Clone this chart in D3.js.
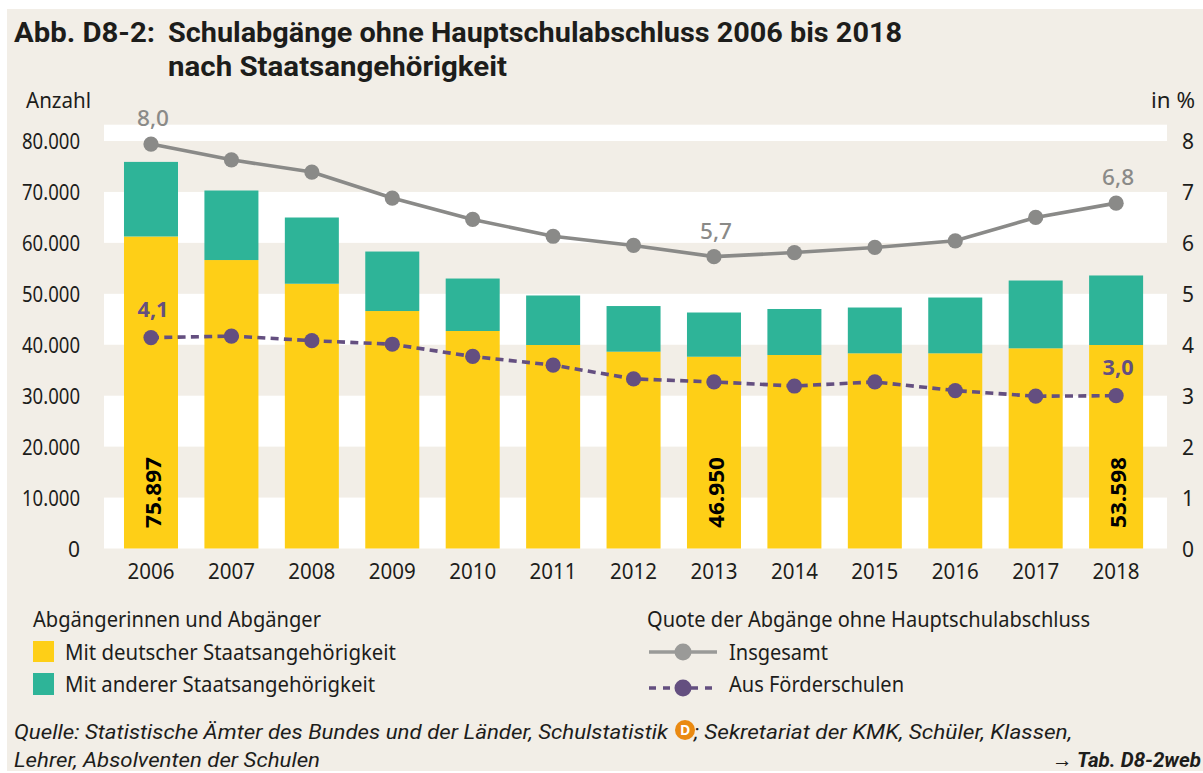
<!DOCTYPE html>
<html lang="de">
<head>
<meta charset="utf-8">
<title>Abb. D8-2</title>
<script src="https://cdn.jsdelivr.net/npm/d3@7/dist/d3.min.js"></script>
<style>
html,body{margin:0;padding:0;background:#fff;overflow:hidden}
svg{display:block}
text{font-family:"Noto Sans","Open Sans",sans-serif;fill:#1d1d1b}
</style>
</head>
<body>
<svg id="chart" width="1203" height="773"></svg>
<script>
const years = [2006,2007,2008,2009,2010,2011,2012,2013,2014,2015,2016,2017,2018];
const german = [61250,56630,51980,46620,42700,39950,38640,37650,37990,38320,38320,39300,39950];
const other  = [14647,13650,13000,11680,10300,9720,8960,8680,9030,8990,10950,13310,13648];
const rateTotal  = [7.94,7.63,7.39,6.88,6.46,6.13,5.95,5.73,5.81,5.91,6.04,6.50,6.78];
const rateSchool = [4.14,4.17,4.08,4.01,3.77,3.60,3.33,3.27,3.19,3.27,3.10,2.99,3.00];
const totalLabels = [{year:2006,text:"75.897"},{year:2013,text:"46.950"},{year:2018,text:"53.598"}];
const rateTotalLabels = [{year:2006,text:"8,0"},{year:2013,text:"5,7"},{year:2018,text:"6,8"}];
const rateSchoolLabels = [{year:2006,text:"4,1"},{year:2018,text:"3,0"}];
const countTicks = [0,10000,20000,30000,40000,50000,60000,70000,80000];
const rateTicks = [0,1,2,3,4,5,6,7,8];
const stripes = [[0,10000],[20000,30000],[40000,50000],[60000,70000],[80000,83200]];

const colors = {bg:"#f2eee7",german:"#fecf17",other:"#2eb498",total:"#8a8a88",school:"#644f80",orange:"#ea8a12"};
const svg = d3.select("#chart");
const x = d3.scaleBand().domain(years).range([110.8,1156.3]).paddingInner(0.3285).paddingOuter(0.164);
const y = d3.scaleLinear().domain([0,80000]).range([548.5,141]);
const r = d3.scaleLinear().domain([0,8]).range([548.5,141]);
const cx = d => x(d)+x.bandwidth()/2;
const de = d3.formatLocale({decimal:",",thousands:".",grouping:[3],currency:["","€"]});
const body = 22;

function label(parent,str,px,py,width,o={}){
  const t = parent.append("text").attr("x",px).attr("y",py).text(str)
    .style("font-size",(o.size||body)+"px").style("font-weight",o.weight||400)
    .style("font-style",o.style||"normal").style("fill",o.fill||"#1d1d1b")
    .attr("text-anchor",o.anchor||"start");
  if(o.family) t.style("font-family",o.family);
  if(width) t.attr("textLength",width).attr("lengthAdjust","spacingAndGlyphs");
  return t;
}

svg.append("rect").attr("x",7).attr("y",9).attr("width",1196).attr("height",762).attr("fill",colors.bg);

// stripes
svg.append("g").selectAll("rect").data(stripes).join("rect")
  .attr("x",104).attr("width",1063)
  .attr("y",d=>y(d[1])).attr("height",d=>y(d[0])-y(d[1])).attr("fill","#fff");

// bars
const rows = years.map((yr,i)=>({year:yr,german:german[i],other:other[i]}));
const stack = d3.stack().keys(["german","other"])(rows);
svg.append("g").selectAll("g").data(stack).join("g").attr("fill",d=>colors[d.key])
  .selectAll("rect").data(d=>d).join("rect")
  .attr("x",d=>x(d.data.year)).attr("width",x.bandwidth())
  .attr("y",d=>y(d[1])).attr("height",d=>y(d[0])-y(d[1]));

// axes
const axL = svg.append("g").attr("transform","translate(80,0)")
  .call(d3.axisLeft(y).tickValues(countTicks).tickSize(0).tickPadding(0).tickFormat(de.format(",d")));
const axR = svg.append("g").attr("transform","translate(1194,0)")
  .call(d3.axisLeft(r).tickValues(rateTicks).tickSize(0).tickPadding(0).tickFormat(d3.format("d")));
const axB = svg.append("g").attr("transform","translate(0,561)")
  .call(d3.axisBottom(x).tickSize(0).tickPadding(0).tickFormat(d3.format("d")));
[axL,axR,axB].forEach(a=>{a.select(".domain").remove();a.selectAll("text").style("font-size","21px").style("font-family",'"Noto Sans"').style("fill","#1d1d1b");});
axL.selectAll("text").attr("dy","0.36em").filter(d=>d>=10000).attr("textLength",58).attr("lengthAdjust","spacingAndGlyphs");
axR.selectAll("text").attr("dy","0.36em");
axB.selectAll("text").attr("dy","0.85em").attr("textLength",47).attr("lengthAdjust","spacingAndGlyphs");

// lines
const lineT = d3.line().x((d,i)=>cx(years[i])).y(d=>r(d));
svg.append("path").datum(rateTotal).attr("d",lineT).attr("fill","none").attr("stroke",colors.total).attr("stroke-width",3.6);
svg.append("g").selectAll("circle").data(rateTotal).join("circle")
  .attr("cx",(d,i)=>cx(years[i])).attr("cy",d=>r(d)).attr("r",7.6).attr("fill",colors.total);
svg.append("path").datum(rateSchool).attr("d",lineT).attr("fill","none").attr("stroke",colors.school).attr("stroke-width",3.6).attr("stroke-dasharray","8 5.3");
svg.append("g").selectAll("circle").data(rateSchool).join("circle")
  .attr("cx",(d,i)=>cx(years[i])).attr("cy",d=>r(d)).attr("r",7.6).attr("fill",colors.school);

// value labels
const valG = svg.append("g");
rateTotalLabels.forEach(l=>{const i=years.indexOf(l.year);
  label(valG,l.text,cx(l.year)+2,r(rateTotal[i])-18,32,{fill:"#8a8a88",anchor:"middle",weight:500,size:22});});
rateSchoolLabels.forEach(l=>{const i=years.indexOf(l.year);
  label(valG,l.text,cx(l.year)+2,r(rateSchool[i])-21,31,{fill:colors.school,anchor:"middle",weight:700,size:22});});
totalLabels.forEach(l=>{
  label(valG,l.text,0,0,71,{weight:700,size:22,fill:"#000"})
    .attr("transform",`translate(${cx(l.year)+10},528) rotate(-90)`);});

// title
const g = svg.append("g");
const titleFont = {weight:700,size:28.5,family:"Roboto"};
label(g,"Abb. D8-2:",14,42,141,titleFont);
label(g,"Schulabgänge ohne Hauptschulabschluss 2006 bis 2018",168,42,734,titleFont);
label(g,"nach Staatsangehörigkeit",168,76,339,titleFont);
label(g,"Anzahl",26,108,65);
label(g,"in %",1151,108,44);

// legend
label(g,"Abgängerinnen und Abgänger",33,627,288);
label(g,"Mit deutscher Staatsangehörigkeit",65,660,331);
label(g,"Mit anderer Staatsangehörigkeit",65,692,310);
g.append("rect").attr("x",33).attr("y",641).attr("width",21).attr("height",21).attr("fill",colors.german);
g.append("rect").attr("x",33).attr("y",673).attr("width",21).attr("height",22).attr("fill",colors.other);
label(g,"Quote der Abgänge ohne Hauptschulabschluss",647,627,443);
label(g,"Insgesamt",729,660,99);
label(g,"Aus Förderschulen",729,692,175);
g.append("line").attr("x1",649).attr("x2",717).attr("y1",652).attr("y2",652).attr("stroke","#9a9a98").attr("stroke-width",3.6);
g.append("circle").attr("cx",683).attr("cy",652).attr("r",8.5).attr("fill","#9a9a98");
g.append("line").attr("x1",649).attr("x2",717).attr("y1",688).attr("y2",688).attr("stroke",colors.school).attr("stroke-width",3.6).attr("stroke-dasharray","7 7");
g.append("circle").attr("cx",683).attr("cy",688).attr("r",8.5).attr("fill",colors.school);

// source
const srcFont = {style:"italic",size:21,family:"Roboto"};
label(g,"Quelle: Statistische Ämter des Bundes und der Länder, Schulstatistik",14,739,654,srcFont);
g.append("circle").attr("cx",685).attr("cy",730).attr("r",10).attr("fill",colors.orange);
label(g,"D",685,735,0,{size:14,weight:700,fill:"#fff",anchor:"middle"});
label(g,"; Sekretariat der KMK, Schüler, Klassen,",694,739,378,srcFont);
label(g,"Lehrer, Absolventen der Schulen",14,767,306,srcFont);
label(g,"→ Tab. D8-2web",1052,767,149,{style:"italic",weight:700,size:21,family:"Roboto"});
</script>
</body>
</html>
